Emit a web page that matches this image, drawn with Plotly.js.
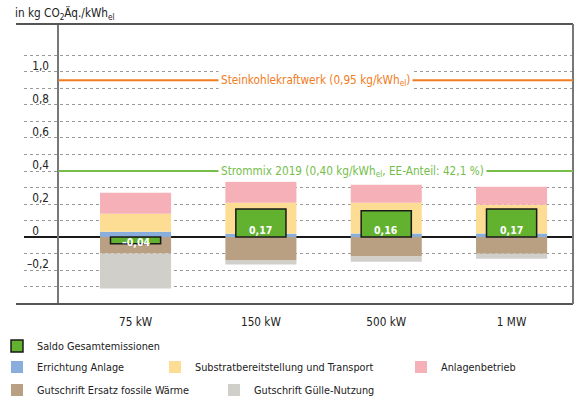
<!DOCTYPE html>
<html>
<head>
<meta charset="utf-8">
<script src="https://cdn.plot.ly/plotly-3.0.1.min.js"></script>
<style>html,body{margin:0;padding:0;background:#fff;}#chart{width:584px;height:400px;}</style>
</head>
<body>
<div id="chart"></div>
<script>
// ---- data ----
const categories = ['75 kW', '150 kW', '500 kW', '1 MW'];
const errichtung = [0.032, 0.020, 0.022, 0.022];
const substrat = [0.109, 0.188, 0.186, 0.174];
const anlagenbetrieb = [0.127, 0.127, 0.109, 0.109];
const fossileWaerme = [-0.100, -0.138, -0.118, -0.101];
const guelle = [-0.211, -0.028, -0.031, -0.030];
const saldo = [-0.04, 0.17, 0.16, 0.17];

const seriesNames = ['Saldo Gesamtemissionen', 'Errichtung Anlage', 'Substratbereitstellung und Transport',
  'Anlagenbetrieb', 'Gutschrift Ersatz fossile Wärme', 'Gutschrift Gülle-Nutzung'];

const refValues = [0.95, 0.40];
const refLabels = ['Steinkohlekraftwerk (0,95 kg/kWh<sub>el</sub>)',
  'Strommix 2019 (0,40 kg/kWh<sub>el</sub>, EE-Anteil: 42,1 %)'];

const yTickVals = [-0.2, 0, 0.2, 0.4, 0.6, 0.8, 1.0];
const yTickText = ['–0,2', '0\u2008\u2007', '0,2', '0,4', '0,6', '0,8', '1,0'];
const yMinorVals = [-0.3, -0.1, 0.1, 0.3, 0.5, 0.7, 0.9, 1.1];

const yTitle = 'in kg CO<sub>2</sub>Äq./kWh<sub>el</sub>';

// ---- styling ----
const FONT = '"DejaVu Sans Condensed", "DejaVu Sans", sans-serif';
const FS = 11.7;      // axis / reference label size
const FS_LEG = 10.8;  // legend size
const colors = {
  saldo: '#62b22f', errichtung: '#8aaedb', substrat: '#fddc93', betrieb: '#f5b1b7',
  fossil: '#b9a083', guelle: '#d0cfca', orange: '#f07c22', green: '#76bd4a'
};
const BAR_W = 0.567;
const SALDO_W = 0.40;

// plot area: x 24..573, y 24..304
const PX_L = 24, PX_R = 573, PX_T = 24, PX_B = 304;
const pw = PX_R - PX_L, ph = PX_B - PX_T;
const px2paperX = p => (p - PX_L) / pw;
const py2paperY = p => (PX_B - p) / ph;

const fmt = v => v.toFixed(2).replace('.', ',').replace('-', '–');

function comp(y, name, color, legend) {
  return {type: 'bar', x: categories, y: y, name: name, width: BAR_W,
    marker: {color: color, line: {width: 0}}, legend: legend, hoverinfo: 'skip'};
}

const traces = [
  comp(errichtung, seriesNames[1], colors.errichtung, 'legend2'),
  comp(substrat, seriesNames[2], colors.substrat, 'legend3'),
  comp(anlagenbetrieb, seriesNames[3], colors.betrieb, 'legend4'),
  comp(fossileWaerme, seriesNames[4], colors.fossil, 'legend5'),
  comp(guelle, seriesNames[5], colors.guelle, 'legend6'),
  {type: 'bar', x: categories, y: saldo, name: seriesNames[0], width: SALDO_W,
    xaxis: 'x2', yaxis: 'y', legend: 'legend',
    marker: {color: colors.saldo, line: {color: '#1a1a1a', width: 1.5}}, hoverinfo: 'skip'}
];

// legend placements: [swatch left px, row center px]
const legendPos = {
  legend: [14, 346], legend2: [14, 367], legend3: [172, 367], legend4: [418, 367],
  legend5: [14, 390], legend6: [231, 390]
};
const legendFont = {family: FONT, size: FS_LEG, color: '#222'};

const shapes = [
  {type: 'line', xref: 'paper', yref: 'paper', x0: px2paperX(16), x1: 1, y0: 1, y1: 1, line: {color: '#555', width: 2}},
  {type: 'line', xref: 'paper', yref: 'paper', x0: px2paperX(16), x1: 1, y0: 0, y1: 0, line: {color: '#555', width: 2}},
  {type: 'line', xref: 'paper', yref: 'paper', x0: 1, x1: 1, y0: 0, y1: 1, line: {color: '#777', width: 2}}
];
const refColors = [colors.orange, colors.green];
refValues.forEach((v, i) => shapes.push({type: 'line', xref: 'paper', yref: 'y', x0: px2paperX(58.3), x1: 1,
  y0: v, y1: v, line: {color: refColors[i], width: 2}}));

const annotations = [];
refValues.forEach((v, i) => annotations.push({xref: 'paper', yref: 'y', x: px2paperX(217.5), y: v,
  xanchor: 'left', yanchor: 'middle', text: refLabels[i], showarrow: false, bgcolor: '#fff', borderpad: 2,
  font: {family: FONT, size: FS, color: refColors[i]}}));
saldo.forEach((v, i) => annotations.push({xref: 'x', yref: 'y', x: categories[i], y: 0,
  xanchor: 'center', yanchor: v >= 0 ? 'bottom' : 'top', yshift: v >= 0 ? -1 : 3,
  text: fmt(v), showarrow: false, font: {family: FONT, size: 10.5, color: '#fff', weight: 700}}));

const layout = {
  width: 584, height: 400,
  margin: {l: PX_L, r: 584 - PX_R, t: PX_T, b: 400 - PX_B, autoexpand: false},
  paper_bgcolor: '#fff', plot_bgcolor: '#fff',
  font: {family: FONT, size: FS, color: '#222'},
  barmode: 'relative',
  showlegend: true,
  title: {text: yTitle, xref: 'container', yref: 'container', x: 15 / 584, xanchor: 'left',
    y: 1 - 13 / 400, yanchor: 'middle', font: {family: FONT, size: FS, color: '#222'}, pad: {t: 0, b: 0, l: 0, r: 0}},
  xaxis: {type: 'category', categoryarray: categories, range: [-0.89, 3.49], showgrid: false, zeroline: false,
    showline: false, ticks: '', ticklabelstandoff: 9, tickfont: {family: FONT, size: FS, color: '#222'},
    fixedrange: true, automargin: false},
  xaxis2: {type: 'category', categoryarray: categories, range: [-0.89, 3.49], overlaying: 'x', visible: false,
    fixedrange: true},
  yaxis: {range: [-0.405, 1.29], anchor: 'free', position: px2paperX(58.3), side: 'left', automargin: false,
    showline: true, linecolor: '#777', linewidth: 2,
    tickmode: 'array', tickvals: yTickVals, ticktext: yTickText, ticks: '', ticklabelstandoff: 6,
    ticklabelshift: -6, tickfont: {family: FONT, size: FS, color: '#222'},
    showgrid: true, gridcolor: '#9a9a9a', gridwidth: 1, griddash: 'dot',
    minor: {tickvals: yMinorVals, showgrid: true, gridcolor: '#9a9a9a', gridwidth: 1, griddash: 'dot', ticks: ''},
    zeroline: true, zerolinecolor: '#1a1a1a', zerolinewidth: 1.3, fixedrange: true},
  shapes: shapes,
  annotations: annotations
};
Object.keys(legendPos).forEach(k => {
  const [sx, cy] = legendPos[k];
  layout[k] = {x: px2paperX(sx - 17), xref: 'paper', xanchor: 'left', y: py2paperY(cy), yanchor: 'middle',
    bgcolor: 'rgba(0,0,0,0)', borderwidth: 0, font: legendFont, orientation: 'v', tracegroupgap: 0};
});

Plotly.newPlot('chart', traces, layout, {displayModeBar: false, staticPlot: true});
</script>
</body>
</html>
